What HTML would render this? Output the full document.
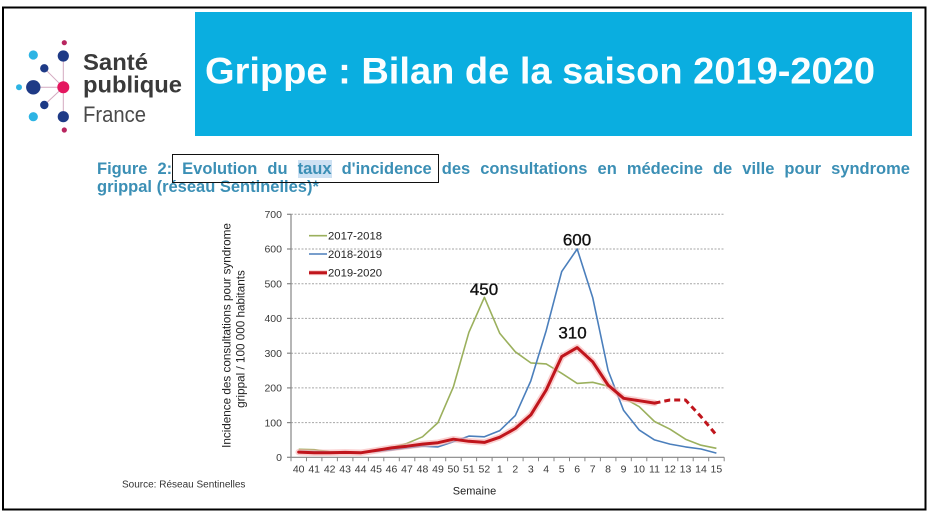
<!DOCTYPE html>
<html>
<head>
<meta charset="utf-8">
<style>
  html,body{margin:0;padding:0;background:#fff;}
  #wrap{position:relative;width:934px;height:518px;overflow:hidden;background:#fff;font-family:"Liberation Sans",Arial,sans-serif;}
  svg{position:absolute;left:0;top:0;}
  .cap{position:absolute;left:97px;width:813px;font-weight:bold;font-size:16.5px;line-height:18px;color:#3b8fb5;white-space:normal;}
  #l1{top:160px;text-align:justify;text-align-last:justify;}
  #l2{top:178px;text-align:left;}
  .hl{background:#cde1f3;}
  #box{position:absolute;left:172px;top:154px;width:265px;height:27px;border:1.5px solid #111;}
</style>
</head>
<body>
<div id="wrap">
<svg width="934" height="518" viewBox="0 0 934 518" xmlns="http://www.w3.org/2000/svg" font-family="Liberation Sans, Arial, sans-serif">
  <!-- frame -->
  <rect x="3" y="7.5" width="922.5" height="502" fill="none" stroke="#000" stroke-width="2"/>
  <!-- banner -->
  <rect x="195" y="12" width="717" height="124" fill="#0aaee0"/>
  <text x="205" y="83.5" font-size="37" font-weight="bold" fill="#fbfeff" textLength="670" lengthAdjust="spacingAndGlyphs">Grippe : Bilan de la saison 2019-2020</text>

  <!-- logo -->
  <g stroke="#d4a9bf" stroke-width="1">
    <line x1="63.3" y1="87.3" x2="44.3" y2="68.3"/>
    <line x1="63.3" y1="87.3" x2="44.3" y2="105"/>
    <line x1="63.3" y1="87.3" x2="33.3" y2="87.3"/>
    <line x1="63.3" y1="87.3" x2="63.3" y2="56"/>
    <line x1="63.3" y1="87.3" x2="63.3" y2="116.7"/>
  </g>
  <circle cx="64.3" cy="42.7" r="2.6" fill="#b8255f"/>
  <circle cx="33.3" cy="55" r="4.6" fill="#2db4e4"/>
  <circle cx="63.3" cy="56" r="5.6" fill="#1e3a86"/>
  <circle cx="44.3" cy="68.3" r="4.2" fill="#1e3a86"/>
  <circle cx="19" cy="87.3" r="3" fill="#2db4e4"/>
  <circle cx="33.3" cy="87.3" r="7.2" fill="#1e3a86"/>
  <circle cx="63.3" cy="87.3" r="6" fill="#e4175f"/>
  <circle cx="44.3" cy="105" r="4.2" fill="#1e3a86"/>
  <circle cx="33.3" cy="116.7" r="4.6" fill="#2db4e4"/>
  <circle cx="63.3" cy="116.7" r="5.6" fill="#1e3a86"/>
  <circle cx="64.3" cy="130" r="2.6" fill="#b8255f"/>
  <text x="83" y="70" font-size="23" font-weight="bold" fill="#3a3a3a" textLength="65" lengthAdjust="spacingAndGlyphs">Santé</text>
  <text x="83" y="92.5" font-size="23" font-weight="bold" fill="#3a3a3a" textLength="99" lengthAdjust="spacingAndGlyphs">publique</text>
  <text x="83" y="122" font-size="22" fill="#4a4a4a" textLength="63" lengthAdjust="spacingAndGlyphs">France</text>

  <!-- gridlines -->
  <g stroke="#a6a6a6" stroke-width="1" stroke-dasharray="2,1.5">
    <line x1="291" y1="422.6" x2="724" y2="422.6"/>
    <line x1="291" y1="387.9" x2="724" y2="387.9"/>
    <line x1="291" y1="353.2" x2="724" y2="353.2"/>
    <line x1="291" y1="318.4" x2="724" y2="318.4"/>
    <line x1="291" y1="283.7" x2="724" y2="283.7"/>
    <line x1="291" y1="249.0" x2="724" y2="249.0"/>
    <line x1="291" y1="214.3" x2="724" y2="214.3"/>
  </g>
  <!-- axes -->
  <g stroke="#868686" stroke-width="1.2">
    <line x1="291" y1="214.3" x2="291" y2="457.3"/>
    <line x1="291" y1="457.3" x2="724.2" y2="457.3"/>
    <line x1="287" y1="457.3" x2="291" y2="457.3"/>
    <line x1="287" y1="422.6" x2="291" y2="422.6"/>
    <line x1="287" y1="387.9" x2="291" y2="387.9"/>
    <line x1="287" y1="353.2" x2="291" y2="353.2"/>
    <line x1="287" y1="318.4" x2="291" y2="318.4"/>
    <line x1="287" y1="283.7" x2="291" y2="283.7"/>
    <line x1="287" y1="249.0" x2="291" y2="249.0"/>
    <line x1="287" y1="214.3" x2="291" y2="214.3"/>
  </g>
  <g stroke="#868686" stroke-width="1">
    <path d="M291 457.3v4 M306.5 457.3v4 M321.9 457.3v4 M337.4 457.3v4 M352.9 457.3v4 M368.4 457.3v4 M383.8 457.3v4 M399.3 457.3v4 M414.8 457.3v4 M430.2 457.3v4 M445.7 457.3v4 M461.2 457.3v4 M476.6 457.3v4 M492.1 457.3v4 M507.6 457.3v4 M523.1 457.3v4 M538.5 457.3v4 M554 457.3v4 M569.5 457.3v4 M584.9 457.3v4 M600.4 457.3v4 M615.9 457.3v4 M631.3 457.3v4 M646.8 457.3v4 M662.3 457.3v4 M677.8 457.3v4 M693.2 457.3v4 M708.7 457.3v4 M724.2 457.3v4"/>
  </g>
  <!-- y labels -->
  <g font-size="10.5" fill="#3a3a3a" text-anchor="end">
    <text x="282" y="461">0</text>
    <text x="282" y="426.3">100</text>
    <text x="282" y="391.6">200</text>
    <text x="282" y="356.9">300</text>
    <text x="282" y="322.1">400</text>
    <text x="282" y="287.4">500</text>
    <text x="282" y="252.7">600</text>
    <text x="282" y="218">700</text>
  </g>
  <!-- x labels -->
  <g font-size="10.5" fill="#3a3a3a" text-anchor="middle">
    <text x="298.7" y="472.5">40</text>
    <text x="314.2" y="472.5">41</text>
    <text x="329.7" y="472.5">42</text>
    <text x="345.1" y="472.5">43</text>
    <text x="360.6" y="472.5">44</text>
    <text x="376.1" y="472.5">45</text>
    <text x="391.5" y="472.5">46</text>
    <text x="407.0" y="472.5">47</text>
    <text x="422.5" y="472.5">48</text>
    <text x="438.0" y="472.5">49</text>
    <text x="453.4" y="472.5">50</text>
    <text x="468.9" y="472.5">51</text>
    <text x="484.4" y="472.5">52</text>
    <text x="499.8" y="472.5">1</text>
    <text x="515.3" y="472.5">2</text>
    <text x="530.8" y="472.5">3</text>
    <text x="546.2" y="472.5">4</text>
    <text x="561.7" y="472.5">5</text>
    <text x="577.2" y="472.5">6</text>
    <text x="592.7" y="472.5">7</text>
    <text x="608.1" y="472.5">8</text>
    <text x="623.6" y="472.5">9</text>
    <text x="639.1" y="472.5">10</text>
    <text x="654.5" y="472.5">11</text>
    <text x="670.0" y="472.5">12</text>
    <text x="685.5" y="472.5">13</text>
    <text x="701.0" y="472.5">14</text>
    <text x="716.4" y="472.5">15</text>
  </g>
  <text x="474.5" y="494.5" font-size="11" fill="#222" text-anchor="middle">Semaine</text>
  <text x="122" y="487.5" font-size="10" fill="#333">Source: Réseau Sentinelles</text>

  <!-- y axis title -->
  <text transform="translate(230.6,335.5) rotate(-90)" font-size="11.7" fill="#222" text-anchor="middle">Incidence des consultations pour syndrome</text>
  <text transform="translate(244.5,339) rotate(-90)" font-size="11.7" fill="#222" text-anchor="middle">grippal / 100 000 habitants</text>

  <!-- series: green 2017-2018 -->
  <polyline fill="none" stroke="#9bb05d" stroke-width="1.6" stroke-linejoin="round"
    points="298.7,449.3 314.2,449.7 329.7,451.7 345.1,452.4 360.6,452.4 376.1,450.4 391.5,447.6 407.0,443.4 422.5,436.8 438.0,422.6 453.4,386.8 468.9,332.3 484.4,297.3 499.8,333.4 515.3,351.8 530.8,362.9 546.2,363.9 561.7,373.3 577.2,383.4 592.7,382.3 608.1,386.1 623.6,397.9 639.1,406.6 654.5,421.5 670.0,429.2 685.5,439.2 701.0,445.2 716.4,448.3"/>
  <!-- blue 2018-2019 -->
  <polyline fill="none" stroke="#4b7fbc" stroke-width="1.6" stroke-linejoin="round"
    points="298.7,451.4 314.2,451.7 329.7,452.1 345.1,452.4 360.6,452.4 376.1,451.4 391.5,450.0 407.0,447.9 422.5,446.2 438.0,446.9 453.4,441.7 468.9,436.1 484.4,436.8 499.8,430.6 515.3,415.6 530.8,380.9 546.2,330.6 561.7,271.6 577.2,249.0 592.7,297.6 608.1,370.5 623.6,410.4 639.1,429.9 654.5,439.9 670.0,444.1 685.5,446.9 701.0,449.0 716.4,453.1"/>
  <!-- red 2019-2020 glow -->
  <polyline fill="none" stroke="#f6b0b0" stroke-width="6.5" stroke-linejoin="round" stroke-linecap="round" opacity="0.6"
    points="298.7,452.1 314.2,452.8 329.7,452.8 345.1,452.4 360.6,452.8 376.1,450.4 391.5,447.9 407.0,446.2 422.5,444.1 438.0,442.7 453.4,439.2 468.9,441.3 484.4,442.4 499.8,437.2 515.3,428.5 530.8,414.9 546.2,390.0 561.7,356.6 577.2,347.6 592.7,361.8 608.1,385.1 623.6,398.3 639.1,400.7 654.5,403.1"/>
  <polyline fill="none" stroke="#c0151c" stroke-width="3" stroke-linejoin="round" stroke-linecap="round"
    points="298.7,452.1 314.2,452.8 329.7,452.8 345.1,452.4 360.6,452.8 376.1,450.4 391.5,447.9 407.0,446.2 422.5,444.1 438.0,442.7 453.4,439.2 468.9,441.3 484.4,442.4 499.8,437.2 515.3,428.5 530.8,414.9 546.2,390.0 561.7,356.6 577.2,347.6 592.7,361.8 608.1,385.1 623.6,398.3 639.1,400.7 654.5,403.1"/>
  <polyline fill="none" stroke="#c0151c" stroke-width="3" stroke-dasharray="6,4" stroke-linejoin="round"
    points="654.5,403.1 670.0,400.0 685.5,400.0 701.0,416.7 716.4,435.1"/>

  <!-- legend -->
  <line x1="309" y1="235.7" x2="327" y2="235.7" stroke="#9bb05d" stroke-width="1.6"/>
  <line x1="309" y1="254" x2="327" y2="254" stroke="#4b7fbc" stroke-width="1.6"/>
  <line x1="309" y1="272.7" x2="327" y2="272.7" stroke="#f6b0b0" stroke-width="5" opacity="0.6"/>
  <line x1="309" y1="272.7" x2="327" y2="272.7" stroke="#c0151c" stroke-width="3"/>
  <g font-size="11.3" fill="#222">
    <text x="328" y="239.7">2017-2018</text>
    <text x="328" y="258">2018-2019</text>
    <text x="328" y="276.7">2019-2020</text>
  </g>

  <!-- annotations -->
  <g font-size="17" fill="#111" stroke="#111" stroke-width="0.35" text-anchor="middle">
    <text x="484" y="295">450</text>
    <text x="577" y="245.5">600</text>
    <text x="572.5" y="338.5">310</text>
  </g>
</svg>

<div class="cap" id="l1">Figure 2: Evolution du <span class="hl">taux</span> d'incidence des consultations en médecine de ville pour syndrome</div>
<div class="cap" id="l2">grippal (réseau Sentinelles)*</div>
<div id="box"></div>
</div>
</body>
</html>
